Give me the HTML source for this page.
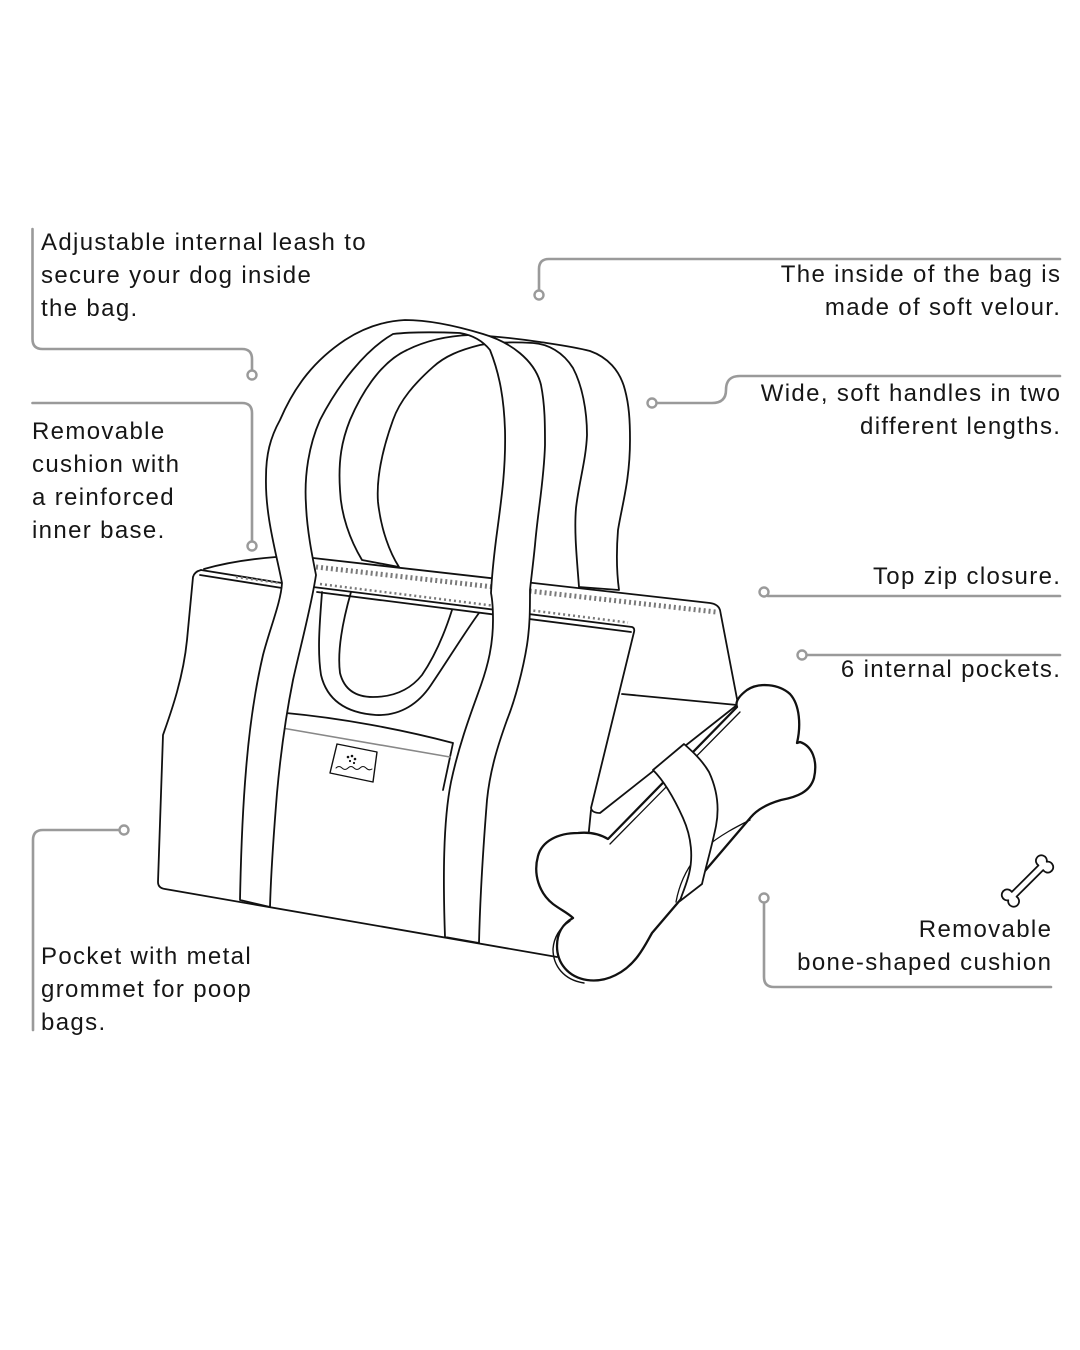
<!DOCTYPE html>
<html><head><meta charset="utf-8">
<style>
html,body{margin:0;padding:0;background:#fff;}
body{width:1080px;height:1350px;position:relative;overflow:hidden;font-family:"Liberation Sans",Arial,sans-serif;}
.t{position:absolute;font-size:24px;line-height:33px;letter-spacing:1.35px;color:#161616;white-space:nowrap;}
.r{text-align:right;}
svg{position:absolute;left:0;top:0;}
</style></head><body>
<svg width="1080" height="1350" viewBox="0 0 1080 1350" xmlns="http://www.w3.org/2000/svg">
<!-- connectors -->
<g fill="none" stroke="#9a9a9a" stroke-width="2.6" stroke-linecap="round" stroke-linejoin="round">
  <path d="M32.5,229 V339 Q32.5,349 42.5,349 H242 Q252,349 252,359 V370"/>
  <path d="M32.5,403 H242 Q252,403 252,413 V541"/>
  <path d="M1060,259 H549 Q539,259 539,269 V290"/>
  <path d="M656.5,403 H712 C722,403 726,398 726,390 C726,381 730,376 740,376 H1060"/>
  <path d="M768,596 H1060"/>
  <path d="M806.5,655 H1060"/>
  <path d="M764,902.5 V977 Q764,987 774,987 H1051"/>
  <path d="M119.5,830 H43 Q33,830 33,840 V1030"/>
</g>
<g fill="#fff" stroke="#9a9a9a" stroke-width="2.4">
  <circle cx="252" cy="375" r="4.5"/>
  <circle cx="252" cy="546" r="4.5"/>
  <circle cx="539" cy="295" r="4.5"/>
  <circle cx="652" cy="403" r="4.5"/>
  <circle cx="764" cy="592" r="4.5"/>
  <circle cx="802" cy="655" r="4.5"/>
  <circle cx="764" cy="898" r="4.5"/>
  <circle cx="124" cy="830" r="4.5"/>
</g>

<!-- bag -->
<g stroke="#111" stroke-width="1.8" stroke-linejoin="round" stroke-linecap="round">
  <!-- back handle -->
  <path fill="#fff" d="M362,560 C350,540 341,515 340,490 C338,460 342,440 350,420 C365,385 385,360 407,350 C425,341 445,336 470,335 C495,336 520,339 540,342 C560,345 575,347 590,351 C607,357 620,370 625,390 C629,405 630,420 630,440 C630,480 622,505 618,530 C616,555 617,575 619,590 L579,587 C577,560 574,532 576,508 C579,482 586,460 587,435 C587,410 582,385 573,368 C563,352 548,344 533,343 C515,342 495,342 480,345 C460,350 445,356 433,367 C415,383 400,400 393,420 C384,445 376,475 378,502 C381,530 390,553 399,567 Z"/>

  <g fill="none">
    <path d="M201,570 C197,571 194,573 193,577 L187,640 C183,680 170,715 163,735 L158,882 Q158,888 165,889 L557,957"/>
    <path d="M201,570 L282,583"/>
    <path d="M200,575 L282,588"/>
    <path d="M204,569 C225,563 250,559 276,557"/>
    <path d="M313,558 L710,603 Q718,604 720,610 L738,704"/>
    <path d="M313,587 L632,627 Q635,628 634,632 L591,808 Q592,813 600,813 L737,705"/>
    <path d="M317,592 L631,632"/>
    <path d="M622,694 L737,705"/>
    <path d="M591,810 L588,840"/>
  </g>
  <!-- zip hatch -->
  <path fill="none" stroke="#7a7a7a" stroke-width="5" stroke-dasharray="2 3" stroke-linecap="butt" d="M316,567 L716,612"/>
  <path fill="none" stroke="#7a7a7a" stroke-width="2.5" stroke-dasharray="2 3" stroke-linecap="butt" d="M320,584 L628,622.5"/>
  <path fill="none" stroke="#7a7a7a" stroke-width="2.5" stroke-dasharray="2 3" stroke-linecap="butt" d="M236,577 L280,583"/>

  <!-- U loop -->
  <path fill="none" d="M322,592 C320,620 317,650 321,675 C327,700 346,713 376,715 C401,716 419,703 431,685 C448,660 465,632 479,613"/>
  <path fill="none" d="M351,592 C343,620 337,650 340,673 C344,689 355,697 373,697 C393,697 410,690 422,675 C435,656 445,632 452,610"/>

  <!-- pocket -->
  <path fill="none" d="M286,713 C340,718 400,729 453,743 L443,790"/>
  <path fill="none" stroke="#888" stroke-width="1.6" d="M282,728 L450,757"/>
  <!-- label -->
  <path fill="#fff" stroke-width="1.4" d="M337,744 L377,752 L373,782 L330,773 Z"/>
  <path fill="none" stroke-width="1" d="M336,768 q3,-3 6,0 t6,0 t6,0 t6,0 t6,0 t6,1"/>
  <g fill="#111" stroke="none">
    <circle cx="348" cy="757" r="1.3"/><circle cx="352" cy="756" r="1.3"/><circle cx="355" cy="759" r="1.3"/><circle cx="350" cy="761" r="1.1"/><circle cx="354" cy="763" r="1.1"/>
  </g>

  <!-- front handle -->
  <path fill="#fff" d="M240,900 C241,850 243,805 246,770 C250,720 256,685 263,655 C270,628 281,602 282,583 C276,552 265,515 266,477 C266,455 270,438 280,420 C295,385 315,360 345,340 C365,327 385,321 405,320 C430,320 460,327 483,334 C510,342 535,360 541,385 C545,405 545,425 545,445 C544,480 538,510 535,545 C533,565 531,580 530,590 C530,610 530,625 527,645 C523,670 515,700 507,720 C498,745 490,770 487,800 C483,850 480,900 479,943 L445,937 C443,880 443,822 451,782 C460,740 474,705 481,685 C488,665 493,645 493,620 C493,605 492,598 491,593 C492,572 494,556 496,540 C501,502 506,470 505,430 C504,400 500,375 490,350 C482,340 472,335 460,333 C435,332 410,332 393,334 C365,350 338,385 320,420 C309,445 304,475 306,505 C307,530 312,555 316,575 C311,608 300,648 293,680 C285,720 280,760 277,793 C274,830 271,870 270,907 Z"/>

  <!-- bone cushion -->
  <path fill="none" stroke-width="1.6" d="M638,946 L752,815"/>
  <g stroke-width="2.3">
    <path fill="#fff" d="M608,839 C598,833 588,832 578,833 C558,833 542,841 538,856 C533,874 539,893 553,904 C561,910 568,913 573,918 C564,923 557,932 557,946 C557,963 568,977 587,980 C607,983 626,972 638,956 C644,948 648,940 652,933 L751,817 C757,810 767,804 781,800 C797,797 810,792 814,778 C818,760 812,746 800,742 L797,743 C801,726 800,705 790,694 C779,684 759,682 747,690 C739,696 735,702 737,707 Z"/>
  </g>
  <path fill="none" stroke-width="1.4" d="M570,921 C561,927 554,936 553,949 C553,966 564,980 584,983"/>
  <path fill="none" stroke-width="1.3" d="M610,844 L740,712"/>
  <path fill="none" stroke-width="1.3" d="M676,902 C680,880 690,862 705,848 C720,835 738,826 750,820"/>
  <!-- strap over bone -->
  <path fill="#fff" d="M653,770 C664,781 674,798 683,818 C692,838 693,858 689,874 C686,886 682,894 680,901 L702,884 C706,866 712,846 716,826 C720,805 716,787 709,772 C702,760 692,751 684,744 Z"/>
</g>

<!-- small bone icon -->
<path transform="translate(1027.5,881) rotate(-45) scale(1.05)" fill="none" stroke="#111" stroke-width="1.7" stroke-linejoin="round"
 d="M-17.92,-3.2 L17.92,-3.2 A5.2,5.2 0 1 1 25.92,0 A5.2,5.2 0 1 1 17.92,3.2 L-17.92,3.2 A5.2,5.2 0 1 1 -25.92,0 A5.2,5.2 0 1 1 -17.92,-3.2 Z"/>
</svg>

<div class="t" style="left:41px;top:226px">Adjustable internal leash to<br>secure your dog inside<br>the bag.</div>
<div class="t" style="left:32px;top:415px">Removable<br>cushion with<br>a reinforced<br>inner base.</div>
<div class="t r" style="right:18.7px;top:258px">The inside of the bag is<br>made of soft velour.</div>
<div class="t r" style="right:18.7px;top:377px">Wide, soft handles in two<br>different lengths.</div>
<div class="t r" style="right:18.7px;top:560px">Top zip closure.</div>
<div class="t r" style="right:18.7px;top:653px">6 internal pockets.</div>
<div class="t r" style="right:27.7px;top:913px">Removable<br>bone-shaped cushion</div>
<div class="t" style="left:41px;top:940px">Pocket with metal<br>grommet for poop<br>bags.</div>
</body></html>
